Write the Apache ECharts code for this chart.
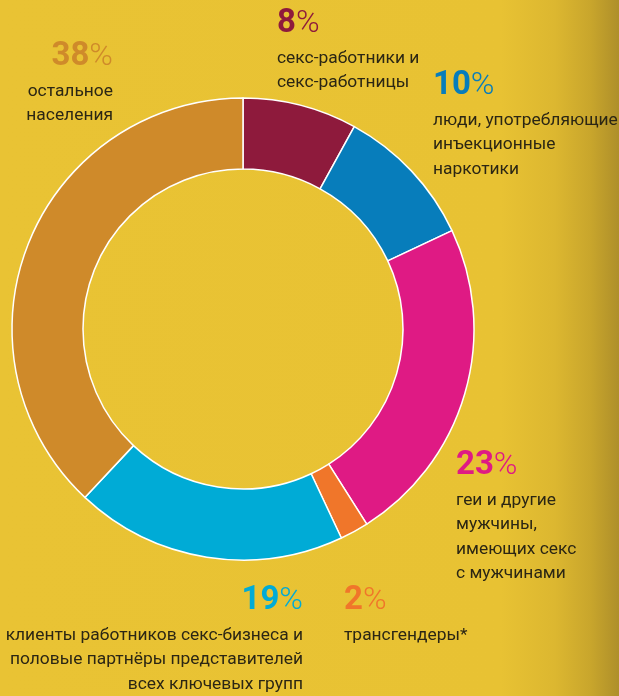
<!DOCTYPE html>
<html>
<head>
<meta charset="utf-8">
<script src="https://cdn.jsdelivr.net/npm/echarts@6/dist/echarts.min.js"></script>
<style>
  html, body { margin: 0; padding: 0; }
  body {
    width: 619px; height: 696px; overflow: hidden;
    background: linear-gradient(to right, #e9c334 0px, #e8c233 500px, #dcb730 555px, #c9a62c 590px, #ae8f2a 619px);
  }
  #chart { width: 619px; height: 696px; }
</style>
</head>
<body>
<div id="chart"></div>
<script>
(function () {

    // доли групп, по часовой стрелке от верха
    let groups = ['секс-работники и\nсекс-работницы',
                  'люди, употребляющие\nинъекционные\nнаркотики',
                  'геи и другие\nмужчины,\nимеющих секс\nс мужчинами',
                  'трансгендеры*',
                  'клиенты работников секс-бизнеса и\nполовые партнёры представителей\nвсех ключевых групп',
                  'остальное\nнаселения'];
    let shares = [8, 10, 23, 2, 19, 38];
    let colors = ['#8e1a3c', '#077dbb', '#df1a84', '#f0762a', '#00abd6', '#cf8a2a'];

    // где стоят подписи: левый/правый верхний угол блока
    let anchors = [
        {x: 277, y: 2,   align: 'left'},
        {x: 433, y: 64,  align: 'left'},
        {x: 456, y: 444, align: 'left'},
        {x: 344, y: 579, align: 'left'},
        {x: 303, y: 579, align: 'right'},
        {x: 113, y: 35,  align: 'right'}
    ];

    let pieData = shares.map((v, i) => ({
        name: groups[i],
        value: v,
        itemStyle: {color: colors[i]},
        label: {
            align: anchors[i].align,
            rich: {
                n: {fontSize: 33, fontWeight: 'bold', color: colors[i], lineHeight: 44, fontFamily: 'Roboto', align: anchors[i].align},
                p: {fontSize: 32, fontWeight: 300, color: colors[i], lineHeight: 44, fontFamily: 'Roboto', align: anchors[i].align},
                t: {fontSize: 17.4, color: '#2b2614', lineHeight: 24.5, fontFamily: 'Roboto', align: anchors[i].align}
            }
        }
    }));

    let myChart = echarts.init(document.getElementById('chart'), null, {renderer: 'canvas'});
    let option = {
        animation: false,
        backgroundColor: 'transparent',
        series: [{
            type: 'pie',
            silent: true,
            startAngle: 90,
            clockwise: true,
            center: [243, 329],
            radius: [160, 231],
            avoidLabelOverlap: false,
            itemStyle: {borderColor: '#ffffff', borderWidth: 1.5},
            label: {
                show: true,
                position: 'outside',
                overflow: 'none',
                formatter: function (p) {
                    let lines = p.name.split('\n').map(s => '{t|' + s + '}').join('\n');
                    return '{n|' + p.value + '}{p|%}\n' + lines;
                }
            },
            labelLine: {show: false},
            labelLayout: function (params) {
                let a = anchors[params.dataIndex];
                return {x: a.x, y: a.y, align: a.align, verticalAlign: 'top', hideOverlap: false};
            },
            data: pieData
        }]
    };
    myChart.setOption(option);

})();
</script>
</body>
</html>
